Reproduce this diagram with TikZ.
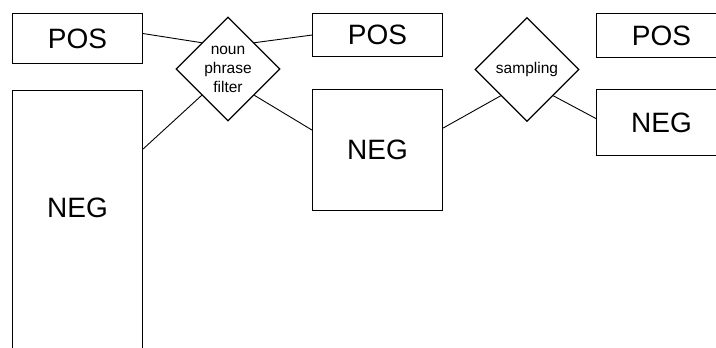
\documentclass[tikz,border=0pt]{standalone}
\usepackage{fontspec}
\setmainfont{Liberation Sans}
\usetikzlibrary{shapes.geometric}
\begin{document}
\begin{tikzpicture}[x=1pt,y=-1pt,line width=1.1pt,
  box/.style={draw,rectangle,inner sep=0pt,anchor=north west,font=\fontsize{28}{30}\selectfont},
  filt/.style={draw,diamond,aspect=1,minimum size=104pt,inner sep=0pt,align=center,font=\fontsize{15.5}{19}\selectfont},
  link/.style={line width=0.9pt}]
\useasboundingbox (0,0) rectangle (716,348);
\node[box,minimum width=130pt,minimum height=50pt] (pos1) at (12,13) {POS};
\node[box,minimum width=130pt,minimum height=330pt,label={[font=\fontsize{28}{30}\selectfont,anchor=center,yshift=-118pt]north:NEG}] (neg1) at (12,90) {};
\node[filt] (d1) at (228,69) {noun\\phrase\\filter};
\node[box,minimum width=130pt,minimum height=43pt] (pos2) at (312,13) {POS};
\node[box,minimum width=130pt,minimum height=121pt] (neg2) at (312,89) {NEG};
\node[filt] (d2) at (527,69.5) {sampling};
\node[box,minimum width=130pt,minimum height=44pt] (pos3) at (596,13) {POS};
\node[box,minimum width=130pt,minimum height=66pt] (neg3) at (596,89) {NEG};
\draw[link] ([yshift=5pt]pos1.east) -- (d1.north west);
\draw[link] (d1.north east) -- (pos2.west);
\draw[link] ([yshift=-16pt]neg1.east |- 0,133) -- (d1.south west);
\draw[link] (d1.south east) -- ([yshift=20pt]neg2.west);
\draw[link] ([yshift=22pt]neg2.east) -- (d2.south west);
\draw[link] (d2.south east) -- ([yshift=4pt]neg3.west);
\end{tikzpicture}
\end{document}
